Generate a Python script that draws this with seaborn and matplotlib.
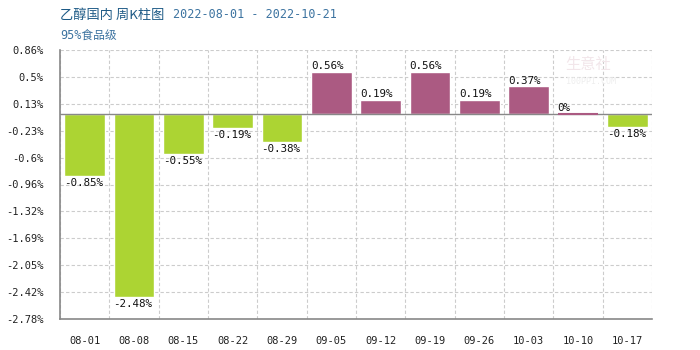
import matplotlib
matplotlib.use("Agg")
import matplotlib.pyplot as plt
import seaborn as sns
import pandas as pd
import numpy as np

categories = ["08-01", "08-08", "08-15", "08-22", "08-29", "09-05", "09-12",
              "09-19", "09-26", "10-03", "10-10", "10-17"]
values = [-0.85, -2.48, -0.55, -0.19, -0.38, 0.56, 0.19, 0.56, 0.19, 0.37, 0.0, -0.18]
labels = ["-0.85%", "-2.48%", "-0.55%", "-0.19%", "-0.38%", "0.56%", "0.19%",
          "0.56%", "0.19%", "0.37%", "0%", "-0.18%"]
yticks = [0.86, 0.5, 0.13, -0.23, -0.6, -0.96, -1.32, -1.69, -2.05, -2.42, -2.78]
ytick_labels = ["0.86%", "0.5%", "0.13%", "-0.23%", "-0.6%", "-0.96%", "-1.32%",
                "-1.69%", "-2.05%", "-2.42%", "-2.78%"]
title = "乙醇国内 周K柱图"
date_range = "2022-08-01 - 2022-10-21"
subtitle = "95%食品级"

GREEN = "#acd433"
RED = "#ab5a82"

sns.set_theme(style="white")
plt.rcParams['font.family'] = ['DejaVu Sans Mono', 'Noto Sans CJK SC']

df = pd.DataFrame({"cat": categories, "val": values})
palette = {c: (GREEN if v < 0 else RED) for c, v in zip(categories, values)}

fig = plt.figure(figsize=(7, 3.5), dpi=100)
ax = fig.add_axes([60/700, 31/350, 592/700, 269/350])
sns.barplot(data=df, x="cat", y="val", hue="cat", palette=palette, legend=False,
            width=0.83, saturation=1, ax=ax, zorder=3)

ax.set_xlim(-0.5, len(categories) - 0.5)
ax.set_ylim(min(yticks), max(yticks))
ax.set_yticks(yticks)
ax.set_yticklabels(ytick_labels)
ax.set_xticks(range(len(categories)))
ax.set_xticklabels(categories)
ax.set_xlabel("")
ax.set_ylabel("")
ax.tick_params(axis="both", length=0, labelsize=7.5, colors="#222222")
ax.tick_params(axis="x", pad=12)
ax.tick_params(axis="y", pad=12)

# grid
ax.set_xticks(np.arange(-0.5, len(categories), 1), minor=True)
ax.grid(True, which="minor", axis="x", color="#cccccc", linestyle=(0, (3, 2)), linewidth=0.8, zorder=0)
ax.grid(True, which="major", axis="y", color="#cccccc", linestyle=(0, (3, 2)), linewidth=0.8, zorder=0)
ax.tick_params(axis="x", which="minor", length=0)
ax.set_axisbelow(True)

for s in ["top", "right"]:
    ax.spines[s].set_visible(False)
for s in ["left", "bottom"]:
    ax.spines[s].set_color("#888888")
    ax.spines[s].set_linewidth(1.2)
ax.axhline(0, color="#888888", linewidth=1.0, zorder=4)

# zero bar thin line
for i, v in enumerate(values):
    if v == 0:
        ax.hlines(0, i - 0.415, i + 0.415, color=RED, linewidth=1.5, zorder=5)

# bar labels
for i, (v, lab) in enumerate(zip(values, labels)):
    x0 = i - 0.415
    if v < 0:
        ax.annotate(lab, (x0, v), xytext=(0, -1.5), textcoords="offset points",
                    ha="left", va="top", fontsize=7.8, color="#111111", zorder=6)
    else:
        ax.annotate(lab, (x0, v), xytext=(0, 0.5), textcoords="offset points",
                    ha="left", va="bottom", fontsize=7.8, color="#111111", zorder=6)

# watermark
fig.text(565/700, 1 - 64/350, "生意社", fontsize=11, color="#f2e6ea", ha="left", va="center",
         family=['Noto Sans CJK SC'], zorder=0)
fig.text(566/700, 1 - 82/350, "100PPI.COM", fontsize=6, color="#eeeeee", ha="left", va="center", zorder=0)

# titles
fig.text(60/700, 1 - 15/350, title, fontsize=9.5, color="#1d5a86", ha="left", va="center",
         family=['Noto Sans CJK SC', 'DejaVu Sans'])
fig.text(173/700, 1 - 15/350, date_range, fontsize=8.5, color="#3c73a0", ha="left", va="center",
         family=['DejaVu Sans Mono'])
fig.text(60/700, 1 - 35/350, subtitle, fontsize=8.5, color="#3c73a0", ha="left", va="center",
         family=['DejaVu Sans Mono', 'Noto Sans CJK SC'])

fig.savefig("out.png", dpi=100)
